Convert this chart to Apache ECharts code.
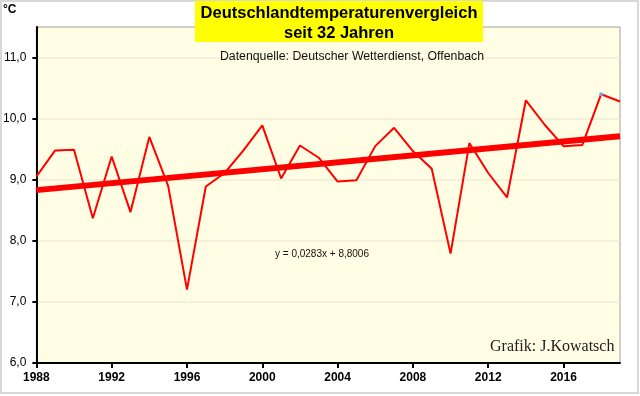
<!DOCTYPE html>
<html>
<head>
<meta charset="utf-8">
<script src="https://cdn.jsdelivr.net/npm/echarts@6/dist/echarts.min.js"></script>
<style>
  html, body { margin: 0; padding: 0; background: #fff; }
  #main { width: 640px; height: 396px; }
</style>
</head>
<body>
<div id="main"></div>
<script>
// Jahre und Jahresmitteltemperaturen (Deutschland, DWD)
var years = [1988, 1989, 1990, 1991, 1992, 1993, 1994, 1995, 1996, 1997, 1998,
  1999, 2000, 2001, 2002, 2003, 2004, 2005, 2006, 2007, 2008, 2009, 2010,
  2011, 2012, 2013, 2014, 2015, 2016, 2017, 2018, 2019];
var temps = [9.05, 9.48, 9.49, 8.37, 9.38, 8.47, 9.70, 8.90, 7.20, 8.89, 9.11,
  9.48, 9.89, 9.02, 9.56, 9.36, 8.97, 8.99, 9.55, 9.85, 9.47, 9.18, 7.79,
  9.60, 9.11, 8.71, 10.30, 9.90, 9.55, 9.57, 10.40, 10.28];
// Trendlinie (Anfang / Ende)
var trendYears = [1988, 2019];
var trendValues = [8.83, 9.71];
// Achsenbeschriftungen
var xTicks = [1988, 1992, 1996, 2000, 2004, 2008, 2012, 2016];
var yTicks = [6, 7, 8, 9, 10, 11];

var font = 'Arial, "Liberation Sans", sans-serif';

var myChart = echarts.init(document.getElementById('main'));

var tempData = years.map(function (y, i) {
  var p = { value: [y, temps[i]] };
  if (y === 2018) {
    p.symbol = 'circle';
    p.symbolSize = 4;
    p.itemStyle = { color: '#7aa7d8' };
  }
  return p;
});

var option = {
  animation: false,
  backgroundColor: '#fff',
  grid: {
    left: 36, right: 20, top: 27, bottom: 33,
    show: true,
    backgroundColor: '#fffee4',
    borderColor: '#a0a0a0',
    borderWidth: 1
  },
  xAxis: {
    type: 'value',
    min: 1988,
    max: 2019,
    interval: 4,
    axisLine: { lineStyle: { color: '#000', width: 2 } },
    axisTick: { show: true, length: 5, customValues: xTicks, lineStyle: { color: '#000', width: 2 } },
    axisLabel: {
      customValues: xTicks,
      color: '#000', fontFamily: font, fontSize: 12, fontWeight: 'bold', margin: 9,
      formatter: function (v) { return String(v); }
    },
    splitLine: { show: false }
  },
  yAxis: {
    type: 'value',
    min: 6,
    max: 11.5,
    interval: 1,
    axisLine: { show: true, lineStyle: { color: '#000', width: 2 } },
    axisTick: { show: true, length: 4, customValues: yTicks, lineStyle: { color: '#000', width: 2 } },
    axisLabel: {
      customValues: yTicks,
      color: '#000', fontFamily: font, fontSize: 12, margin: 10,
      formatter: function (v) { return v.toFixed(1).replace('.', ','); }
    },
    splitLine: { show: true, lineStyle: { color: '#eeecd6', width: 1.5 } }
  },
  series: [
    {
      name: 'Trend',
      type: 'line',
      data: trendYears.map(function (y, i) { return [y, trendValues[i]]; }),
      showSymbol: false,
      lineStyle: { color: '#ff0000', width: 6 },
      z: 2
    },
    {
      name: 'Temperatur',
      type: 'line',
      data: tempData,
      symbol: 'none',
      lineStyle: { color: '#ff0000', width: 2 },
      z: 3
    }
  ],
  graphic: [
    {
      type: 'rect', x: 0, y: 0, silent: true,
      shape: { x: 1, y: 1, width: 637, height: 392 },
      style: { fill: 'none', stroke: '#d8d8d8', lineWidth: 2 }
    },
    {
      type: 'rect', x: 195, y: 1, z: 10,
      shape: { width: 288, height: 41 },
      style: { fill: '#ffff00' }
    },
    {
      type: 'text', x: 339, y: 3, z: 11,
      style: {
        text: 'Deutschlandtemperaturenvergleich\nseit 32 Jahren',
        fill: '#000', font: 'bold 16.5px ' + font,
        align: 'center', verticalAlign: 'top', lineHeight: 20
      }
    },
    {
      type: 'text', x: 352, y: 51, z: 11,
      style: {
        text: 'Datenquelle: Deutscher Wetterdienst, Offenbach',
        fill: '#111', font: '12.3px ' + font, align: 'center', verticalAlign: 'top'
      }
    },
    {
      type: 'text', x: 3, y: 4, z: 11,
      style: { text: '°C', fill: '#000', font: 'bold 12px ' + font, verticalAlign: 'top' }
    },
    {
      type: 'text', x: 275, y: 249, z: 11,
      style: { text: 'y = 0,0283x + 8,8006', fill: '#111', font: '10px ' + font, verticalAlign: 'top' }
    },
    {
      type: 'text', x: 490, y: 339, z: 11,
      style: {
        text: 'Grafik: J.Kowatsch', fill: '#222',
        font: '16px "Times New Roman", "Liberation Serif", serif', verticalAlign: 'top'
      }
    }
  ]
};

myChart.setOption(option);
window.onresize = function () {
  myChart.resize();
};
</script>
</body>
</html>
